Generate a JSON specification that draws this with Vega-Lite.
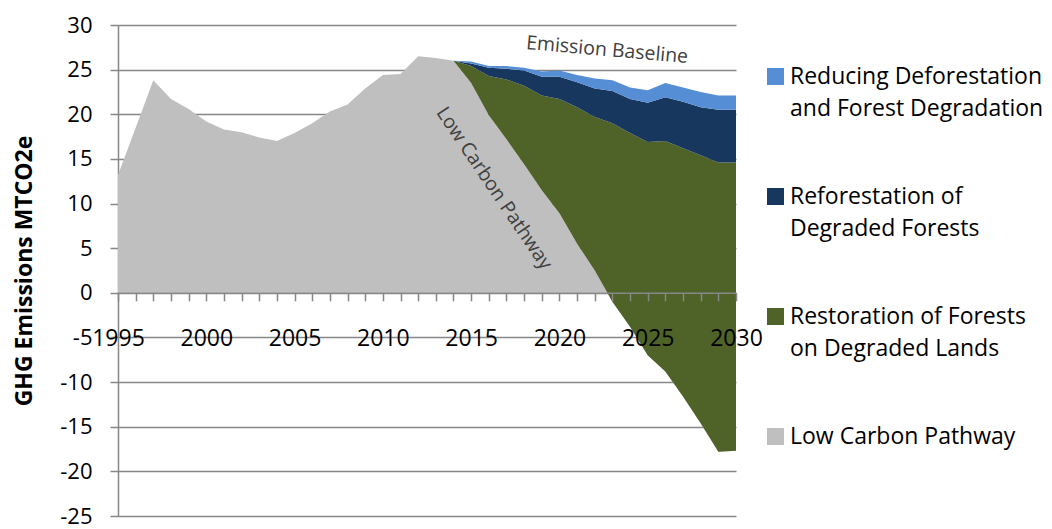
{
  "$schema": "https://vega.github.io/schema/vega-lite/v6.json",
  "width": 618,
  "height": 491,
  "autosize": {"type": "none"},
  "padding": {"left": 118, "top": 25, "right": 316, "bottom": 13},
  "config": {
    "font": "Open Sans",
    "view": {"stroke": null},
    "style": {"guide-label": {"lineHeight": 32}}
  },
  "datasets": {
    "series": [
      {"year": 1995, "lcp": 13.2},
      {"year": 1996, "lcp": 18.5},
      {"year": 1997, "lcp": 23.8},
      {"year": 1998, "lcp": 21.7},
      {"year": 1999, "lcp": 20.6},
      {"year": 2000, "lcp": 19.2},
      {"year": 2001, "lcp": 18.3},
      {"year": 2002, "lcp": 18.0},
      {"year": 2003, "lcp": 17.4},
      {"year": 2004, "lcp": 17.0},
      {"year": 2005, "lcp": 17.9},
      {"year": 2006, "lcp": 19.0},
      {"year": 2007, "lcp": 20.3},
      {"year": 2008, "lcp": 21.1},
      {"year": 2009, "lcp": 22.9},
      {"year": 2010, "lcp": 24.4},
      {"year": 2011, "lcp": 24.5},
      {"year": 2012, "lcp": 26.5},
      {"year": 2013, "lcp": 26.3},
      {"year": 2014, "lcp": 26.0, "restoration": 26.0, "reforestation": 26.0, "baseline": 26.0},
      {"year": 2015, "lcp": 23.5, "restoration": 25.4, "reforestation": 25.7, "baseline": 25.9},
      {"year": 2016, "lcp": 19.9, "restoration": 24.3, "reforestation": 25.2, "baseline": 25.4},
      {"year": 2017, "lcp": 17.2, "restoration": 23.9, "reforestation": 25.1, "baseline": 25.4},
      {"year": 2018, "lcp": 14.4, "restoration": 23.2, "reforestation": 24.9, "baseline": 25.2},
      {"year": 2019, "lcp": 11.5, "restoration": 22.1, "reforestation": 24.2, "baseline": 24.8},
      {"year": 2020, "lcp": 8.9, "restoration": 21.7, "reforestation": 24.2, "baseline": 24.9},
      {"year": 2021, "lcp": 5.5, "restoration": 20.8, "reforestation": 23.6, "baseline": 24.4},
      {"year": 2022, "lcp": 2.5, "restoration": 19.7, "reforestation": 22.9, "baseline": 24.0},
      {"year": 2023, "lcp": -1.0, "restoration": 19.0, "reforestation": 22.6, "baseline": 23.8},
      {"year": 2024, "lcp": -3.8, "restoration": 17.9, "reforestation": 21.7, "baseline": 23.0},
      {"year": 2025, "lcp": -7.0, "restoration": 16.9, "reforestation": 21.3, "baseline": 22.7},
      {"year": 2026, "lcp": -8.8, "restoration": 17.0, "reforestation": 21.9, "baseline": 23.5},
      {"year": 2027, "lcp": -11.6, "restoration": 16.2, "reforestation": 21.4, "baseline": 23.0},
      {"year": 2028, "lcp": -14.6, "restoration": 15.4, "reforestation": 20.8, "baseline": 22.5},
      {"year": 2029, "lcp": -17.8, "restoration": 14.6, "reforestation": 20.5, "baseline": 22.1},
      {"year": 2030, "lcp": -17.7, "restoration": 14.6, "reforestation": 20.5, "baseline": 22.1}
    ],
    "notes": [
      {"year": 2022.7, "value": 27.2, "text": "Emission Baseline", "angle": 5},
      {"year": 2016.3, "value": 11.7, "text": "Low Carbon Pathway", "angle": 56}
    ]
  },
  "data": {"name": "series"},
  "encoding": {
    "x": {
      "field": "year",
      "type": "quantitative",
      "scale": {"domain": [1995, 2030], "nice": false, "zero": false},
      "axis": {
        "title": null,
        "values": [1995,1996,1997,1998,1999,2000,2001,2002,2003,2004,2005,2006,2007,2008,2009,2010,2011,2012,2013,2014,2015,2016,2017,2018,2019,2020,2021,2022,2023,2024,2025,2026,2027,2028,2029,2030],
        "labelExpr": "datum.value % 5 == 0 ? toString(datum.value) : ''",
        "offset": -223.2,
        "zindex": 1,
        "grid": false,
        "domainColor": "#878787",
        "domainWidth": 1.5,
        "tickColor": "#878787",
        "tickWidth": 1.5,
        "tickSize": 8,
        "labelFontSize": 23,
        "labelColor": "#000000",
        "labelPadding": 27,
        "labelOverlap": false,
        "labelFlush": false
      }
    }
  },
  "layer": [
    {
      "mark": {"type": "area", "interpolate": "linear"},
      "encoding": {
        "y": {
          "field": "lcp",
          "type": "quantitative",
          "scale": {"domain": [-25, 30], "nice": false, "zero": false},
          "axis": {
            "title": "GHG Emissions  MTCO2e",
            "titleFontSize": 23,
            "titleFontWeight": "bold",
            "titleColor": "#000000",
            "titlePadding": 23,
            "values": [-25,-20,-15,-10,-5,0,5,10,15,20,25,30],
            "labelExpr": "toString(datum.value)",
            "grid": true,
            "gridColor": "#878787",
            "gridWidth": 1.5,
            "domainColor": "#878787",
            "domainWidth": 1.5,
            "tickColor": "#878787",
            "tickWidth": 1.5,
            "tickSize": 8,
            "labelFontSize": 22,
            "labelColor": "#000000",
            "labelPadding": 18,
            "labelOverlap": false,
            "labelFlush": false
          }
        },
        "y2": {"datum": 0},
        "color": {
          "datum": "Low Carbon Pathway",
          "scale": {
            "domain": ["Reducing Deforestation and Forest Degradation", "Reforestation of Degraded Forests", "Restoration of Forests on Degraded Lands", "Low Carbon Pathway"],
            "range": ["#558ED5", "#17375E", "#4F6228", "#BFBFBF"]
          },
          "legend": {
            "title": null,
            "orient": "none",
            "legendX": 646,
            "legendY": 40,
            "padding": 0,
            "symbolType": "square",
            "symbolSize": 289,
            "symbolStrokeWidth": 0,
            "symbolOpacity": 1,
            "labelFontSize": 23,
            "labelColor": "#000000",
            "labelLimit": 400,
            "labelOffset": 3,
            "rowPadding": 64,
            "labelExpr": "datum.label == 'Reducing Deforestation and Forest Degradation' ? ['Reducing Deforestation', 'and Forest  Degradation'] : datum.label == 'Reforestation of Degraded Forests' ? ['Reforestation of', 'Degraded Forests'] : datum.label == 'Restoration of Forests on Degraded Lands' ? ['Restoration of Forests', 'on Degraded Lands'] : datum.label"
          }
        }
      }
    },
    {
      "transform": [{"filter": "isValid(datum.restoration)"}],
      "mark": {"type": "area", "interpolate": "linear"},
      "encoding": {
        "y": {"field": "lcp", "type": "quantitative"},
        "y2": {"field": "restoration"},
        "color": {"datum": "Restoration of Forests on Degraded Lands"}
      }
    },
    {
      "transform": [{"filter": "isValid(datum.reforestation)"}],
      "mark": {"type": "area", "interpolate": "linear"},
      "encoding": {
        "y": {"field": "restoration", "type": "quantitative"},
        "y2": {"field": "reforestation"},
        "color": {"datum": "Reforestation of Degraded Forests"}
      }
    },
    {
      "transform": [{"filter": "isValid(datum.baseline)"}],
      "mark": {"type": "area", "interpolate": "linear"},
      "encoding": {
        "y": {"field": "reforestation", "type": "quantitative"},
        "y2": {"field": "baseline"},
        "color": {"datum": "Reducing Deforestation and Forest Degradation"}
      }
    },
    {
      "data": {"name": "notes"},
      "mark": {"type": "text", "fontSize": 19.5, "color": "#404040", "align": "center", "baseline": "middle"},
      "encoding": {
        "x": {"field": "year", "type": "quantitative"},
        "y": {"field": "value", "type": "quantitative"},
        "text": {"field": "text"},
        "angle": {"field": "angle", "type": "quantitative", "scale": null}
      }
    }
  ]
}
